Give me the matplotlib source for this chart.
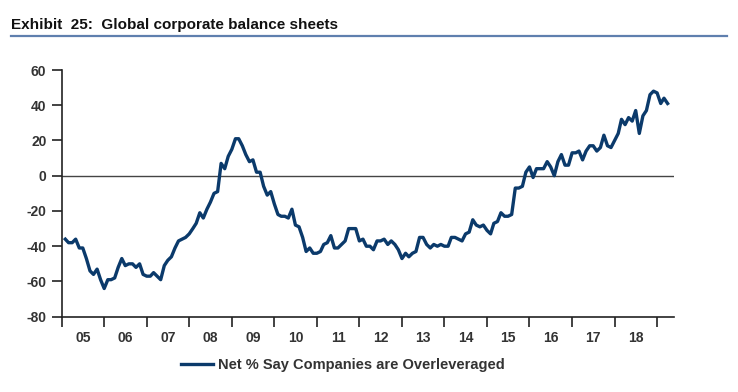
import numpy as np
import pandas as pd
import matplotlib
matplotlib.use('Agg')
import matplotlib.pyplot as plt
import matplotlib.dates as mdates

# Net % say companies are overleveraged, monthly from Feb 2005
start_month = '2005-02'
net_overleveraged = [
    -36, -38, -38, -36, -41, -41, -47, -54, -56, -53, -59,            # 2005
    -64, -59, -59, -58, -52, -47, -51, -50, -50, -52, -50, -56,       # 2006
    -57, -57, -55, -57, -59, -51, -48, -46, -41, -37, -36, -35,       # 2007
    -33, -30, -27, -21, -24, -19, -15, -10, -9, 7, 4, 11,             # 2008
    15, 21, 21, 17, 12, 8, 9, 2, 2, -6, -11, -9,                      # 2009
    -16, -22, -23, -23, -24, -19, -28, -29, -35, -43, -41, -44,       # 2010
    -44, -43, -39, -38, -34, -41, -41, -39, -37, -30, -30, -30,       # 2011
    -37, -36, -40, -40, -42, -37, -37, -36, -39, -37, -39, -42,       # 2012
    -47, -44, -46, -44, -43, -35, -35, -39, -41, -39, -40, -39,       # 2013
    -40, -40, -35, -35, -36, -37, -33, -32, -25, -28, -29, -28,       # 2014
    -31, -33, -27, -26, -21, -23, -23, -22, -7, -7, -6, 2,            # 2015
    5, -1, 4, 4, 4, 8, 5, 0, 8, 12, 6, 6,                             # 2016
    13, 13, 14, 9, 14, 17, 17, 14, 16, 23, 17, 16,                    # 2017
    20, 24, 32, 29, 33, 31, 37, 24, 34, 37, 46, 48,                   # 2018
    47, 41, 44, 41,                                                   # 2019
]
year_labels = ['05', '06', '07', '08', '09', '10', '11', '12', '13',
               '14', '15', '16', '17', '18']
y_ticks = [-80, -60, -40, -20, 0, 20, 40, 60]

dates = pd.date_range(start_month, periods=len(net_overleveraged), freq='MS')

line_color = '#0b3a6b'
text_color = '#333333'
plt.rcParams['font.family'] = ['Liberation Sans', 'DejaVu Sans']

fig = plt.figure(figsize=(7.38, 3.92), dpi=100)
ax = fig.add_axes([0.0836, 0.1921, 0.83, 0.6293])

ax.plot(dates, net_overleveraged, color=line_color, lw=2.4,
        solid_joinstyle='round', label='Net % Say Companies are Overleveraged')
ax.axhline(0, color='#444444', lw=1.0, zorder=1)

ax.set_ylim(-80, 60)
ax.set_yticks(y_ticks)
ax.set_yticklabels([str(v) for v in y_ticks])

ax.set_xlim(pd.Timestamp('2005-01-01'), pd.Timestamp('2019-05-28'))
ax.xaxis.set_major_locator(mdates.YearLocator())
ax.xaxis.set_major_formatter(plt.NullFormatter())
mid_years = [pd.Timestamp(f'20{y}-07-02') for y in year_labels]
ax.set_xticks(mid_years, minor=True)
ax.set_xticklabels(year_labels, minor=True)

for s in ['top', 'right']:
    ax.spines[s].set_visible(False)
for s in ['left', 'bottom']:
    ax.spines[s].set_color('#222222')
    ax.spines[s].set_linewidth(1.2)

ax.tick_params(axis='y', direction='out', length=7, width=1.2, color='#222222',
               labelsize=10, labelcolor=text_color, pad=4)
ax.tick_params(axis='x', which='major', direction='out', length=7, width=1.2,
               color='#222222')
ax.tick_params(axis='x', which='minor', length=0, labelsize=10,
               labelcolor=text_color, pad=10.5)
for lab in ax.get_yticklabels() + ax.get_xticklabels(minor=True):
    lab.set_fontweight('bold')

# title and rule
fig.text(0.0155, 0.925, 'Exhibit  25:  Global corporate balance sheets',
         fontsize=11, fontweight='bold', color='#111111', va='baseline')
fig.add_artist(plt.Line2D([0.0149, 0.9846], [0.908, 0.908],
                          color='#5f7fae', lw=1.6, transform=fig.transFigure))

leg = fig.legend(loc='center', bbox_to_anchor=(0.465, 0.069), frameon=False,
                 handlelength=2.2, handletextpad=0.35,
                 prop={'size': 10.5, 'weight': 'bold'})
for t in leg.get_texts():
    t.set_color(text_color)

fig.savefig('out.png', dpi=100)
